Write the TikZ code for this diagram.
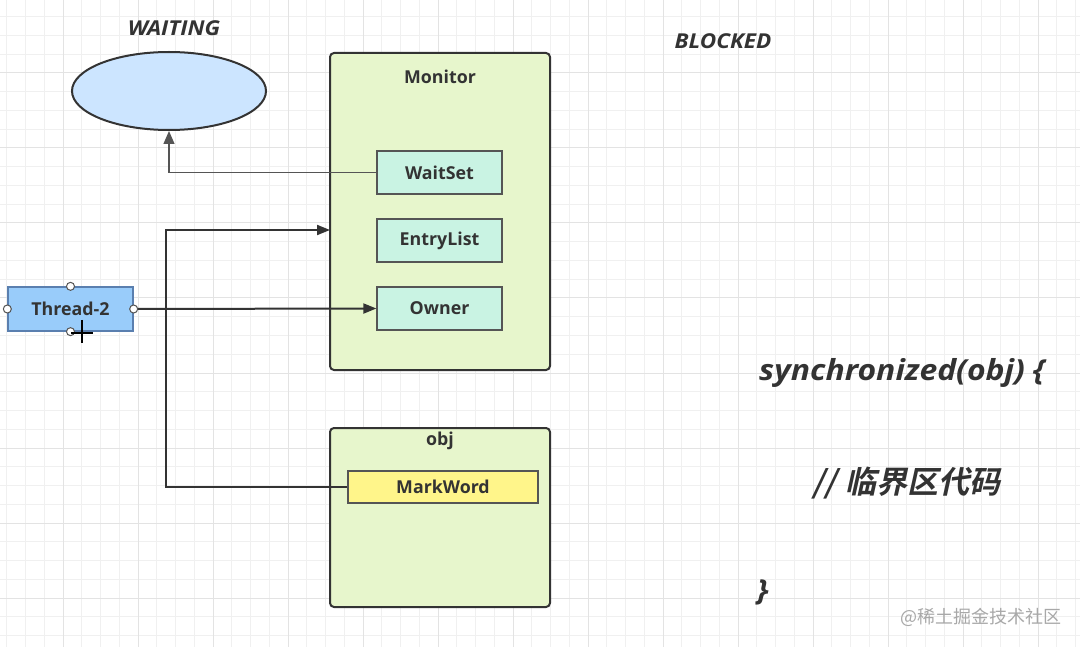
\documentclass[tikz,border=0pt]{standalone}
\usepackage{fontspec}
\setmainfont{Open Sans}
\newfontfamily\wideit[FakeStretch=1.1]{Open Sans}
\newfontfamily\cjkb[FakeSlant=0.22]{Noto Sans CJK SC Bold}
\newfontfamily\cjkr{Noto Sans CJK SC}
\usetikzlibrary{shapes.geometric,arrows.meta}
\definecolor{gridminor}{HTML}{F0F0F0}
\definecolor{gridmajor}{HTML}{E3E3E3}
\definecolor{ink}{HTML}{333333}
\definecolor{edge}{HTML}{555555}
\definecolor{monfill}{HTML}{E7F6CC}
\definecolor{mintfill}{HTML}{C9F3E3}
\definecolor{ellfill}{HTML}{CCE5FF}
\definecolor{thrfill}{HTML}{99CCFA}
\definecolor{thredge}{HTML}{5A7FAF}
\definecolor{markfill}{HTML}{FFF58A}
\definecolor{wm}{HTML}{A8A8A8}
\tikzset{
  lbl/.style={font=\bfseries\fontsize{17.8}{20}\selectfont, text=ink},
  bigbox/.style={draw=ink, line width=2pt, fill=monfill, rounded corners=4pt, inner sep=0pt},
  slot/.style={draw=edge, line width=1.3pt, fill=mintfill, minimum width=125pt, minimum height=43pt, inner sep=0pt, lbl},
  state/.style={font=\wideit\bfseries\itshape\fontsize{20.5}{24}\selectfont, text=ink},
  code/.style={font=\wideit\bfseries\itshape\fontsize{29}{34}\selectfont, text=ink},
  thin/.style={draw=edge, line width=1.2pt, -{Triangle[length=13pt,width=11pt]}},
  thick/.style={draw=ink, line width=2pt, -{Triangle[length=13pt,width=10pt]}},
  handle/.style={circle, draw=edge, fill=white, line width=1pt, minimum size=8pt, inner sep=0pt}
}
\begin{document}
\begin{tikzpicture}[x=1pt,y=-1pt]
\useasboundingbox (0,0) rectangle (1080,647);
\fill[white] (0,0) rectangle (1080,647);
% grid
\foreach \i in {0,...,57} \draw[gridminor, line width=1pt] ({6.75+\i*18.75},0) -- ({6.75+\i*18.75},647);
\foreach \j in {0,...,33} \draw[gridminor, line width=1pt] (0,{16.75+\j*18.75}) -- (1080,{16.75+\j*18.75});
\foreach \i in {0,...,13} \draw[gridmajor, line width=1pt] ({63+\i*75},0) -- ({63+\i*75},647);
\foreach \j in {0,...,7} \draw[gridmajor, line width=1pt] (0,{73+\j*75}) -- (1080,{73+\j*75});

% waiting ellipse
\node[state] (waitlbl) at (174,28) {WAITING};
\node[ellipse, draw=ink, line width=2pt, fill=ellfill, minimum width=194pt, minimum height=78pt] (wait) at (169,91) {};
\node[state] (blocklbl) at (723,41) {BLOCKED};

% monitor
\node[bigbox, minimum width=220pt, minimum height=317pt] (mon) at (440,211.5) {};
\node[lbl] (monlbl) at (440,77) {Monitor};
\node[slot] (waitset) at (439.5,172.5) {WaitSet};
\node[slot] (entry) at (439.5,240.5) {EntryList};
\node[slot] (owner) at (439.5,308.5) {Owner};

% obj
\node[bigbox, minimum width=220pt, minimum height=179pt] (obj) at (440,517.5) {};
\node[lbl] (objlbl) at (440,441) {obj};
\node[draw=edge, line width=1.3pt, fill=markfill, minimum width=190pt, minimum height=32pt, inner sep=0pt, lbl] (mw) at (443,487) {MarkWord};

% thread
\node[draw=thredge, line width=1.3pt, fill=thrfill, minimum width=125pt, minimum height=44pt, inner sep=0pt, lbl] (thr) at (70.5,309) {Thread-2};

% connectors
\draw[thin] (waitset.west) -| (wait.south);
\draw[thick] (thr.east) -- (owner.west);
\coordinate (bend) at (166,487);
\coordinate (monin) at (330,230);
\draw[thick] (mw.west) -- (bend) |- (monin);

% selection handles
\node[handle] (hn) at (thr.north) {};
\node[handle] (hs) at (thr.south) {};
\node[handle] (he) at (thr.east) {};
\node[handle] (hw) at (thr.west) {};
% cursor
\coordinate (cur1) at (82,320);
\coordinate (cur2) at (82,343);
\coordinate (cur3) at (71,333);
\coordinate (cur4) at (93,333);
\draw[black, line width=1.6pt] (cur1) -- (cur2);
\draw[black, line width=1.6pt] (cur3) -- (cur4);

% code
\node[code, anchor=base west, inner sep=0pt] (sync) at (759,381) {synchronized(obj) \{};
\node[anchor=west, inner sep=0pt, text=ink, font=\cjkb\fontsize{31}{35}\selectfont] (crit) at (812,483) {//\hspace{9pt}临界区代码};
\node[code, anchor=base west, inner sep=0pt] (close) at (757,600) {\}};
\node[text=wm, font=\cjkr\fontsize{18}{22}\selectfont] (wmark) at (981,617) {@稀土掘金技术社区};
\end{tikzpicture}
\end{document}
